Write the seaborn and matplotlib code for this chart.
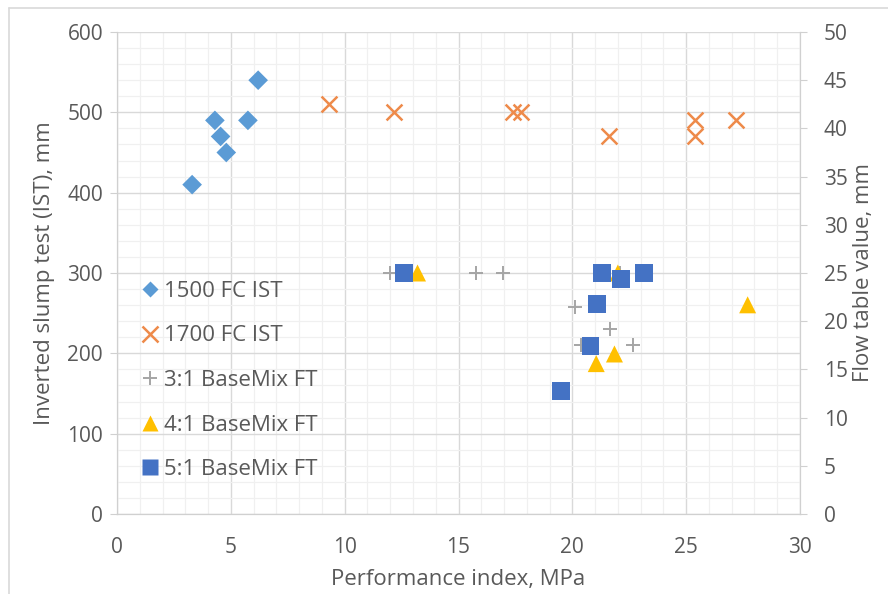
import pandas as pd
import seaborn as sns
import matplotlib.pyplot as plt
from matplotlib.ticker import MultipleLocator
from matplotlib.lines import Line2D

# 1500 FC IST (left axis, mm)
fc1500_x = [3.3, 4.3, 4.55, 4.8, 5.75, 6.2]
fc1500_y = [410, 490, 470, 450, 490, 540]

# 1700 FC IST (left axis, mm)
fc1700_x = [9.3, 12.15, 17.4, 17.75, 21.6, 25.4, 25.4, 27.2]
fc1700_y = [510, 500, 500, 500, 470, 490, 470, 490]

# flow table values (right axis, mm)
bm31_x = [12.0, 15.75, 16.95, 20.1, 21.65, 22.65, 20.4, 22.1]
bm31_y = [25, 25, 25, 21.5, 19.2, 17.5, 17.5, 25]

bm41_x = [13.2, 22.0, 21.85, 21.05, 27.7]
bm41_y = [25, 25, 16.6, 15.6, 21.7]

bm51_x = [12.6, 21.3, 22.15, 23.15, 21.1, 20.8, 19.5]
bm51_y = [25, 25, 24.4, 25, 21.8, 17.4, 12.8]

labels = ["1500 FC IST", "1700 FC IST", "3:1 BaseMix FT", "4:1 BaseMix FT", "5:1 BaseMix FT"]
colors = ["#5B9BD5", "#ED7D31", "#A5A5A5", "#FFC000", "#4472C4"]

sns.set_style("white")
plt.rcParams['font.family'] = ['Open Sans', 'DejaVu Sans']
txt = "#595959"
fs_tick = 15
fs_lab = 16

fig = plt.figure(figsize=(8.88, 5.94), dpi=100)
ax = fig.add_axes([117/888, 1-514/594, (800-117)/888, (514-32)/594])
ax2 = ax.twinx()

sns.scatterplot(x=fc1500_x, y=fc1500_y, ax=ax, marker="D", s=100, color=colors[0], edgecolor="none")
sns.scatterplot(x=fc1700_x, y=fc1700_y, ax=ax, marker="x", s=130, color="#EE8A4A", linewidth=1.8)
sns.scatterplot(x=bm31_x, y=bm31_y, ax=ax2, marker="+", s=110, color=colors[2], linewidth=1.4)
sns.scatterplot(x=bm41_x, y=bm41_y, ax=ax2, marker="^", s=150, color=colors[3], edgecolor="none")
sns.scatterplot(x=bm51_x, y=bm51_y, ax=ax2, marker="s", s=165, color=colors[4], edgecolor="none")

ax.set_xlim(0, 30)
ax.set_ylim(0, 600)
ax2.set_ylim(0, 50)
ax.xaxis.set_major_locator(MultipleLocator(5))
ax.xaxis.set_minor_locator(MultipleLocator(1))
ax.yaxis.set_major_locator(MultipleLocator(100))
ax.yaxis.set_minor_locator(MultipleLocator(20))
ax2.yaxis.set_major_locator(MultipleLocator(5))

ax.grid(which="major", color="#D9D9D9", linewidth=1.0)
ax.grid(which="minor", color="#F0F0F0", linewidth=0.9)
ax.set_axisbelow(True)
ax2.grid(False)

for a in (ax, ax2):
    for side in ("left", "right", "bottom"):
        a.spines[side].set_color("#D0D0D0")
    a.spines["top"].set_visible(False)
ax.tick_params(which="major", length=5, color="#D0D0D0", labelsize=fs_tick, labelcolor=txt)
ax.tick_params(axis="y", pad=5)
ax.tick_params(axis="x", pad=11.5)
ax.tick_params(which="minor", length=0)
ax2.tick_params(axis="y", length=5, color="#D0D0D0", labelsize=fs_tick, labelcolor=txt, pad=12)

ax.set_xlabel("Performance index, MPa", fontsize=fs_lab, color=txt, labelpad=8)
ax.set_ylabel("Inverted slump test (IST), mm", fontsize=fs_lab, color=txt, labelpad=9)
ax2.set_ylabel("Flow table value, mm", fontsize=fs_lab, color=txt, labelpad=4)

handles = [
    Line2D([], [], ls="none", marker="D", ms=8.5, color=colors[0], mec="none"),
    Line2D([], [], ls="none", marker="x", ms=11, color="#EE8A4A", mew=1.8),
    Line2D([], [], ls="none", marker="+", ms=10, color=colors[2], mew=1.4),
    Line2D([], [], ls="none", marker="^", ms=12, color=colors[3], mec="none"),
    Line2D([], [], ls="none", marker="s", ms=12, color=colors[4], mec="none"),
]
leg = ax2.legend(handles, labels, loc="upper left", bbox_to_anchor=(0.022, 0.502),
                 frameon=False, fontsize=fs_lab, labelcolor=txt, labelspacing=1.06,
                 handlelength=0.8, handletextpad=0.25, borderaxespad=0)

# thin frame lines of the chart area (left and top only)
fig.add_artist(Line2D([9/888, 9/888], [0, 1-8/594], color="#D9D9D9", lw=1.2))
fig.add_artist(Line2D([9/888, 1], [1-8/594, 1-8/594], color="#D9D9D9", lw=1.2))

fig.savefig("out.png", dpi=100)
